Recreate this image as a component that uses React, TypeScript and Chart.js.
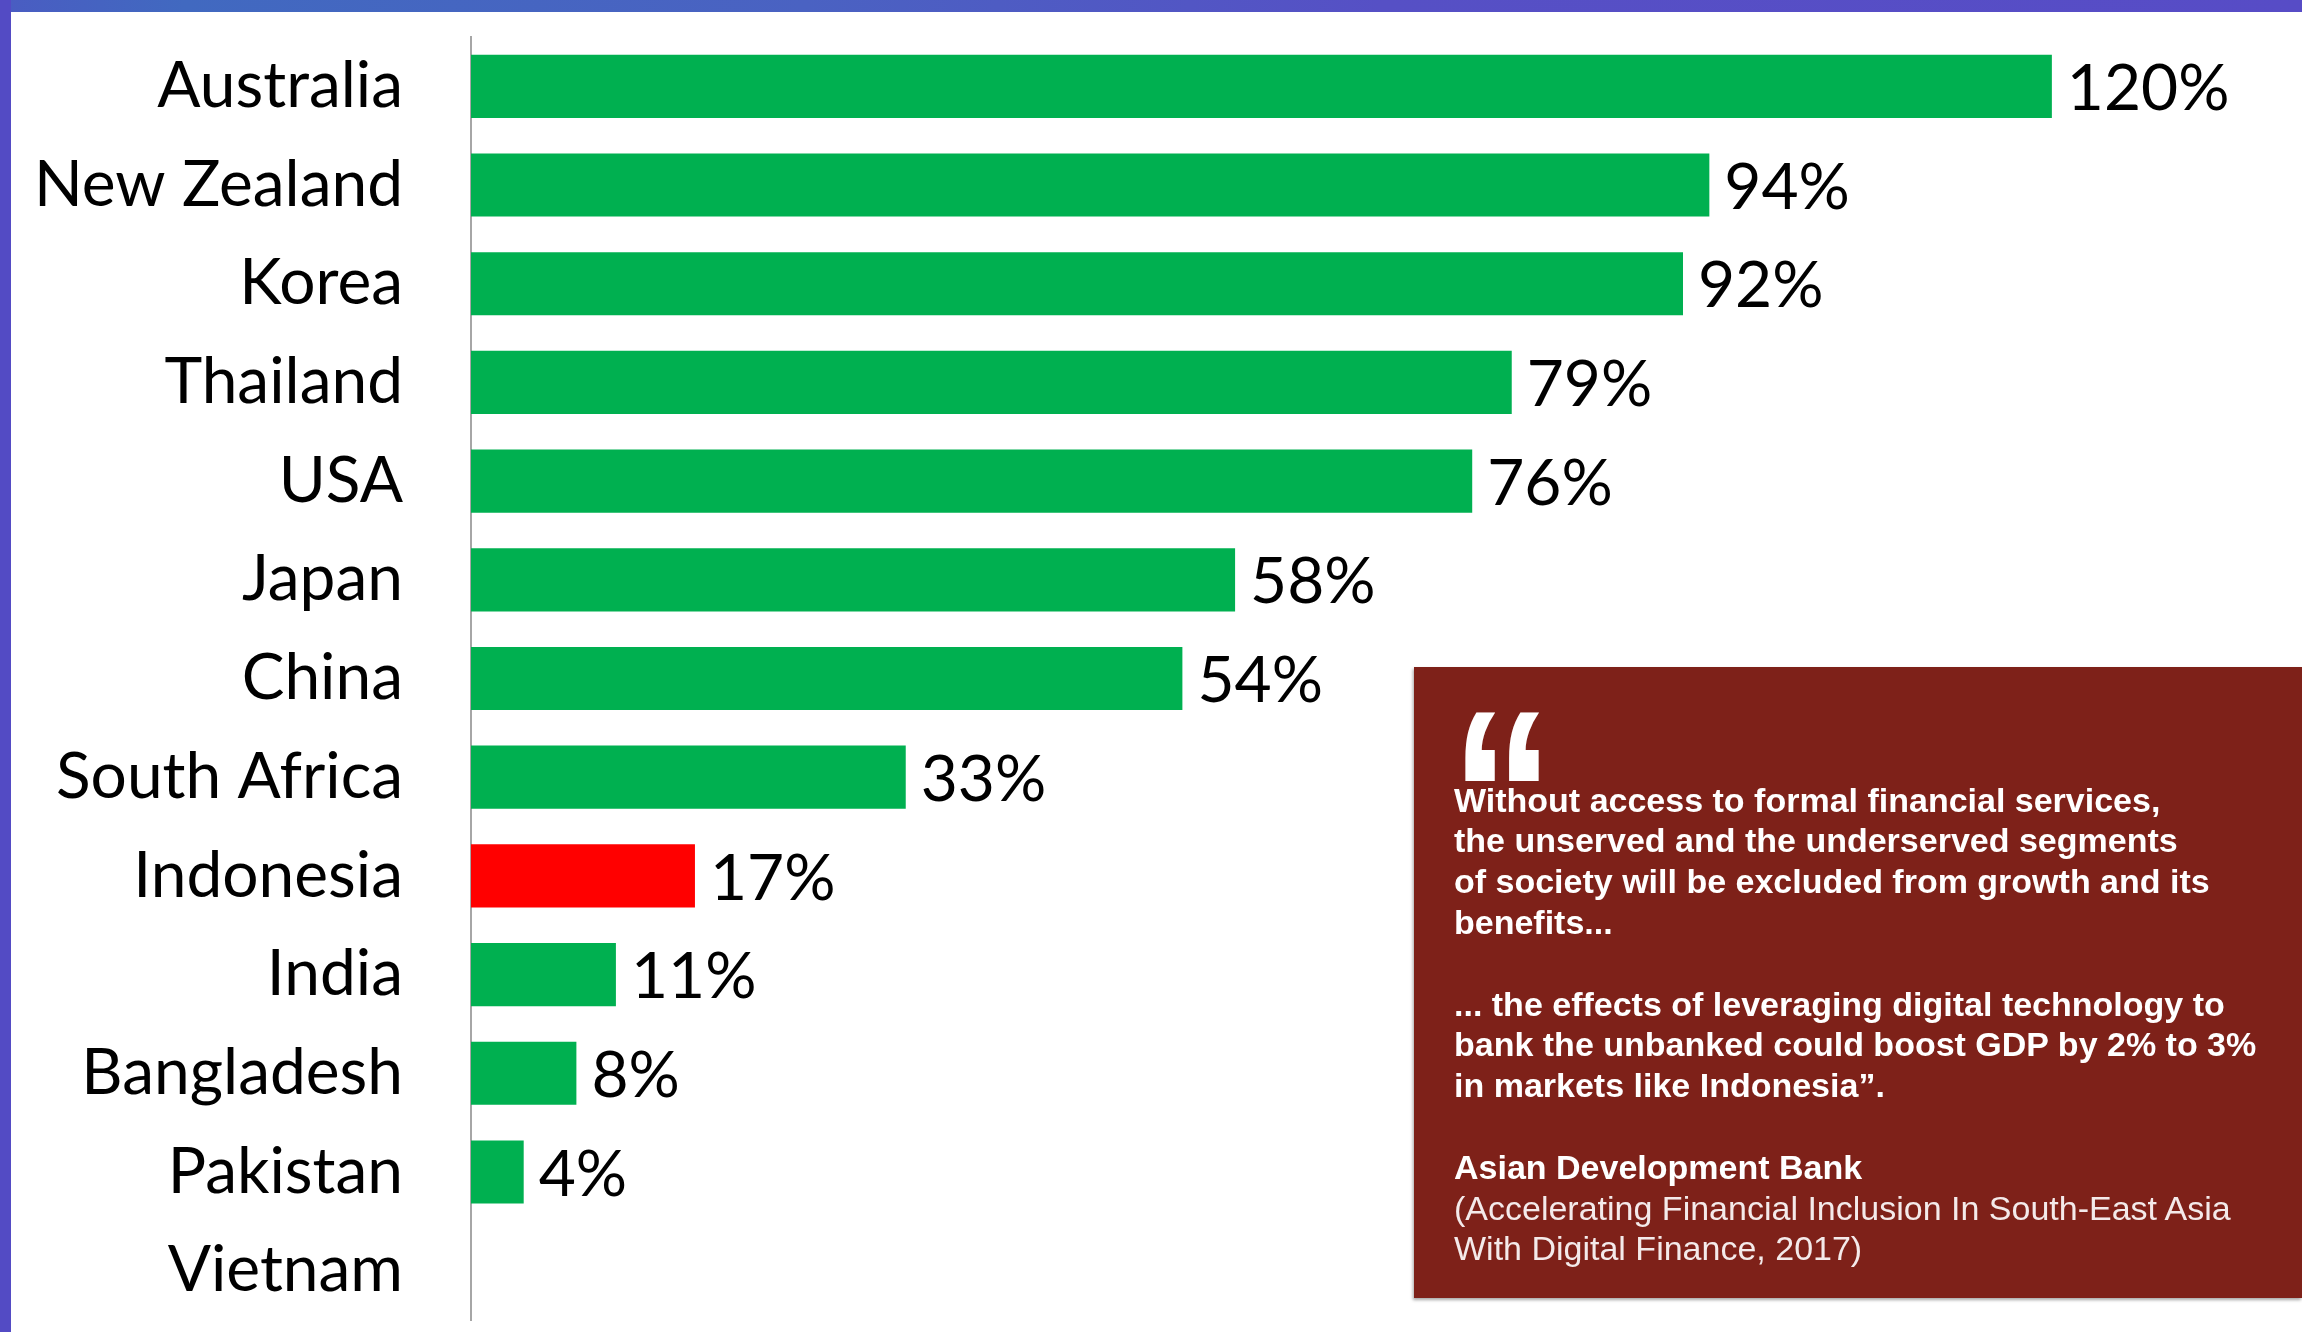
import React, { useEffect, useRef } from "react";
import { Chart, registerables } from "chart.js";

Chart.register(...registerables);

const categories = [
  "Australia",
  "New Zealand",
  "Korea",
  "Thailand",
  "USA",
  "Japan",
  "China",
  "South Africa",
  "Indonesia",
  "India",
  "Bangladesh",
  "Pakistan",
  "Vietnam",
];
const values: (number | null)[] = [120, 94, 92, 79, 76, 58, 54, 33, 17, 11, 8, 4, null];
const highlight = "Indonesia";

const quoteLines = [
  "Without access to formal financial services,",
  "the unserved and the underserved segments",
  "of society will be excluded from growth and its",
  "benefits...",
  "",
  "... the effects of leveraging digital technology to",
  "bank the unbanked could boost GDP by 2% to 3%",
  "in markets like Indonesia\u201D.",
  "",
];
const sourceName = "Asian Development Bank";
const sourceLines = [
  "(Accelerating Financial Inclusion In South-East Asia",
  "With Digital Finance, 2017)",
];

const GREEN = "#00B050";
const RED = "#FF0000";
const FONT = "Lato, 'Open Sans', sans-serif";

const valueLabels = {
  id: "valueLabels",
  afterDatasetsDraw(chart: any) {
    const ctx = chart.ctx;
    const meta = chart.getDatasetMeta(0);
    ctx.save();
    ctx.font = `64px ${FONT}`;
    ctx.fillStyle = "#000";
    ctx.textBaseline = "middle";
    ctx.textAlign = "left";
    meta.data.forEach((bar: any, i: number) => {
      const v = values[i];
      if (v == null) return;
      ctx.fillText(`${v}%`, bar.x + 15, bar.y + 3);
    });
    ctx.restore();
  },
};

export default function App() {
  const canvasRef = useRef<HTMLCanvasElement | null>(null);

  useEffect(() => {
    if (!canvasRef.current) return;
    const chart = new Chart(canvasRef.current, {
      type: "bar",
      data: {
        labels: categories,
        datasets: [
          {
            data: values as any,
            backgroundColor: categories.map((c) => (c === highlight ? RED : GREEN)),
            borderWidth: 0,
            barPercentage: 0.64,
            categoryPercentage: 1,
          },
        ],
      },
      options: {
        indexAxis: "y",
        animation: false,
        responsive: false,
        devicePixelRatio: 1,
        layout: { padding: { top: 37, bottom: 12, right: 13, left: 0 } },
        plugins: {
          legend: { display: false },
          tooltip: { enabled: false },
          title: { display: false },
        },
        scales: {
          x: {
            display: false,
            min: 0,
            max: 138,
          },
          y: {
            grid: { display: false, drawTicks: false },
            border: { display: true, color: "#a6a6a6", width: 2 },
            afterFit: (s: any) => {
              s.width = 471;
              s.paddingTop = 0;
              s.paddingBottom = 0;
            },
            ticks: {
              padding: 68,
              color: "#000",
              font: { family: FONT, size: 64 },
            },
          },
        },
      },
      plugins: [valueLabels],
    });
    return () => chart.destroy();
  }, []);

  const lineH = 40.8;
  return (
    <div
      style={{
        position: "fixed",
        left: 0,
        top: 0,
        width: 2302,
        height: 1332,
        background: "#fff",
        overflow: "hidden",
      }}
    >
      <canvas ref={canvasRef} width={2302} height={1332} style={{ position: "absolute", left: 0, top: 0 }} />
      <div
        style={{
          position: "absolute",
          left: 0,
          top: 0,
          width: 2302,
          height: 12,
          background: "linear-gradient(to right, #4a5cc2 0%, #4169c0 8%, #4a62c2 35%, #5650c5 60%, #574cc6 100%)",
        }}
      />
      <div style={{ position: "absolute", left: 0, top: 0, width: 11, height: 1332, background: "#534bc4" }} />
      <div
        style={{
          position: "absolute",
          left: 1414,
          top: 667,
          width: 2302 - 1414,
          height: 1298 - 667,
          background: "#7e2119",
          boxShadow: "-1px 2px 3px rgba(0,0,0,0.35)",
          color: "#fff",
          fontFamily: "'Liberation Sans', Arial, sans-serif",
        }}
      >
        <div
          style={{
            position: "absolute",
            left: 36,
            top: 7,
            fontSize: 243,
            lineHeight: "243px",
            fontWeight: 700,
            transform: "scaleX(0.86)",
            transformOrigin: "left top",
          }}
        >
          {"\u201C"}
        </div>
        <div
          style={{
            position: "absolute",
            left: 40,
            top: 800 - 667 - lineH / 2,
            fontSize: 34,
            lineHeight: `${lineH}px`,
            whiteSpace: "pre",
          }}
        >
          {quoteLines.map((l, i) => (
            <div key={i} style={{ fontWeight: 700, height: lineH }}>
              {l}
            </div>
          ))}
          <div style={{ fontWeight: 700, height: lineH }}>{sourceName}</div>
          {sourceLines.map((l, i) => (
            <div key={"s" + i} style={{ fontWeight: 400, height: lineH, color: "#f4eaea" }}>
              {l}
            </div>
          ))}
        </div>
      </div>
    </div>
  );
}
